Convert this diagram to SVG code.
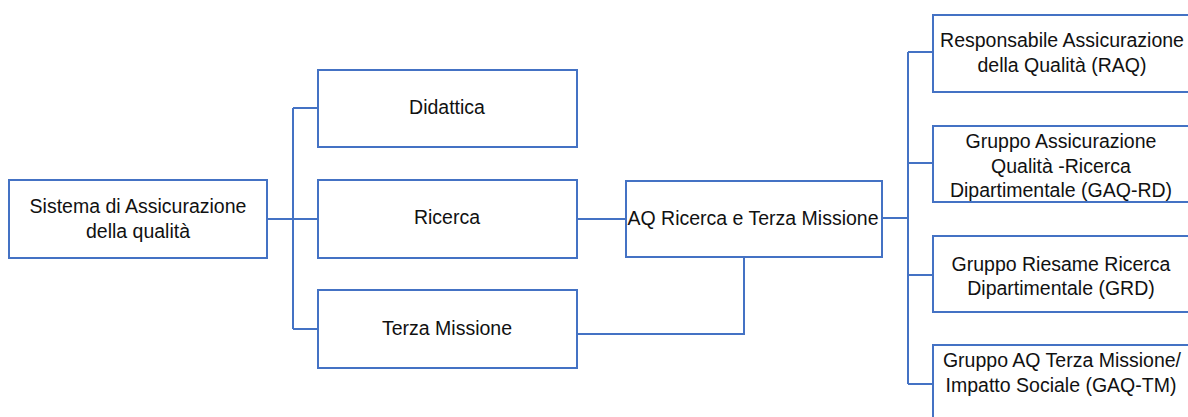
<svg xmlns="http://www.w3.org/2000/svg" width="1188" height="417" viewBox="0 0 1188 417">
<style>
.box{fill:#fff;stroke:#4472C4;stroke-width:2}
.ln{fill:none;stroke:#4472C4;stroke-width:2}
text{font-family:"Liberation Sans",Arial,sans-serif;fill:#111;text-anchor:middle;font-size:19.5px}
</style>
<rect width="1188" height="417" fill="#fff"/>
<g id="connectors">
<path class="ln" d="M267 219H318M293 108V329M293 108H318M293 329H318"/>
<path class="ln" d="M577 219H626"/>
<path class="ln" d="M744 257V334H577"/>
<path class="ln" d="M882 218H908M908 52V384M908 52H933M908 163H933M908 275H933M908 384H933"/>
</g>
<g id="n-sistema"><rect class="box" x="9" y="180" width="258" height="78"/><text x="138" y="213">Sistema di Assicurazione</text><text x="138" y="238">della qualità</text></g>
<g id="n-didattica"><rect class="box" x="318" y="70" width="259" height="77"/><text x="447" y="114">Didattica</text></g>
<g id="n-ricerca"><rect class="box" x="318" y="180" width="259" height="78"/><text x="447" y="224">Ricerca</text></g>
<g id="n-terza"><rect class="box" x="318" y="290" width="259" height="78"/><text x="447" y="335">Terza Missione</text></g>
<g id="n-aq"><rect class="box" x="626" y="181" width="256" height="76"/><text x="753" y="225">AQ Ricerca e Terza Missione</text></g>
<g id="n-raq"><rect class="box" x="933" y="15" width="270" height="77"/><text x="1062" y="47">Responsabile Assicurazione</text><text x="1062" y="72">della Qualità (RAQ)</text></g>
<g id="n-gaqrd"><rect class="box" x="933" y="126" width="270" height="76"/><text x="1061" y="148">Gruppo Assicurazione</text><text x="1061" y="173">Qualità -Ricerca</text><text x="1061" y="197">Dipartimentale (GAQ-RD)</text></g>
<g id="n-grd"><rect class="box" x="933" y="236" width="270" height="76"/><text x="1061" y="271">Gruppo Riesame Ricerca</text><text x="1061" y="295">Dipartimentale (GRD)</text></g>
<g id="n-gaqtm"><rect class="box" x="933" y="345" width="270" height="90"/><text x="1062" y="367">Gruppo AQ Terza Missione/</text><text x="1061" y="392">Impatto Sociale (GAQ-TM)</text></g>
</svg>
